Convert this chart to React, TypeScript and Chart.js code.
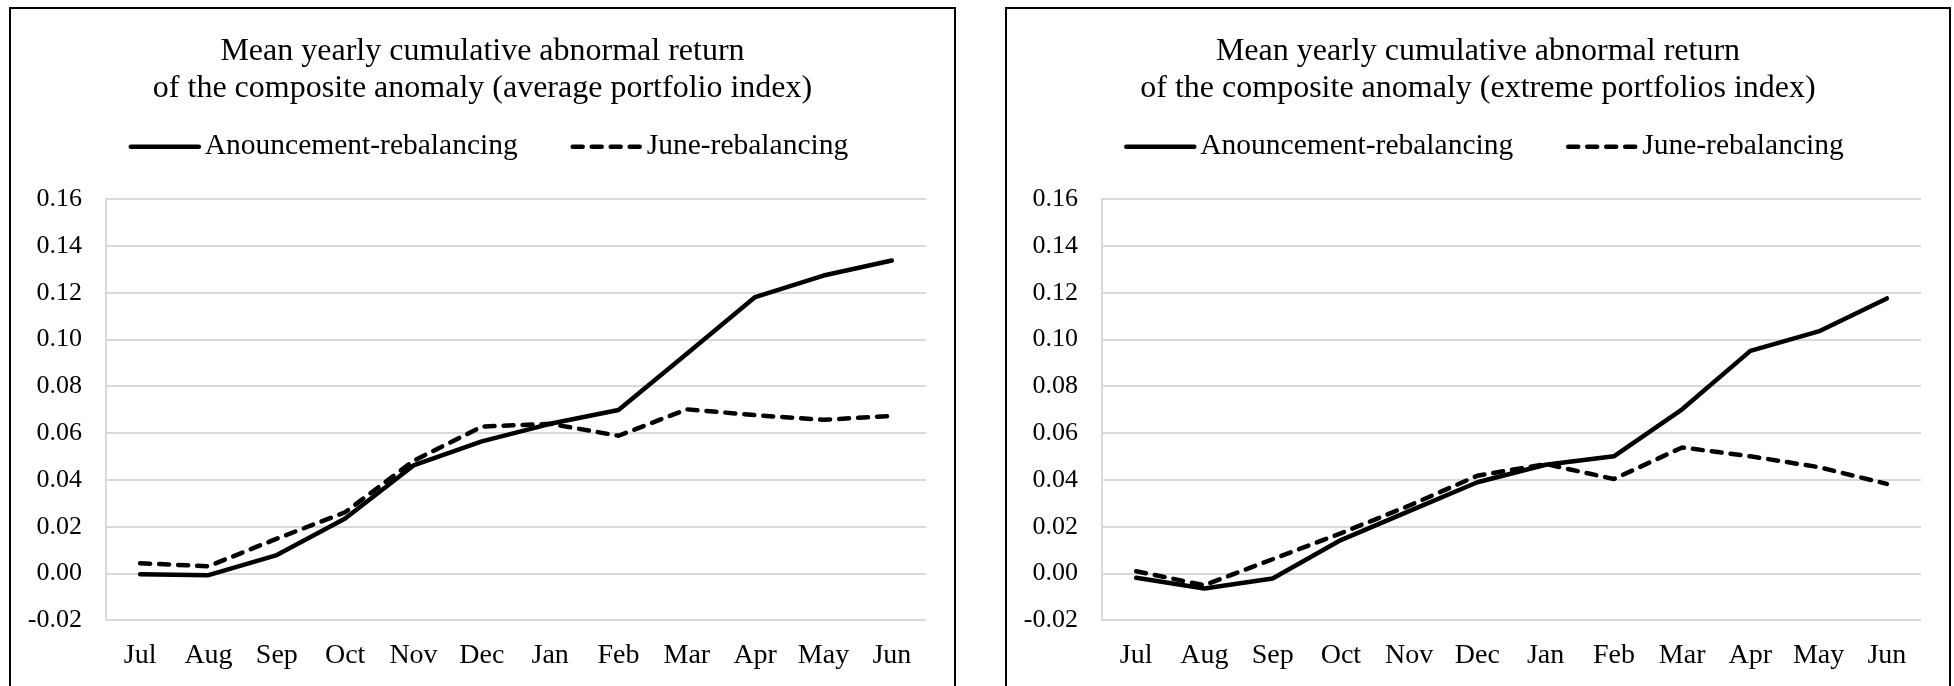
import React, { useEffect, useRef } from 'react';
import { Chart, registerables } from 'chart.js';

Chart.register(...registerables);

// ---------- data ----------
const months = ['Jul', 'Aug', 'Sep', 'Oct', 'Nov', 'Dec', 'Jan', 'Feb', 'Mar', 'Apr', 'May', 'Jun'];
const seriesNames = ['Anouncement-rebalancing', 'June-rebalancing'];

const avgTitle = ['Mean yearly cumulative abnormal return', 'of the composite anomaly (average portfolio index)'];
const extTitle = ['Mean yearly cumulative abnormal return', 'of the composite anomaly (extreme portfolios index)'];

const avgAnnouncement = [-0.0003, -0.0007, 0.0079, 0.0235, 0.0462, 0.0565, 0.064, 0.0699, 0.094, 0.1182, 0.1274, 0.1338];
const avgJune = [0.0044, 0.0031, 0.0149, 0.0262, 0.0482, 0.0628, 0.064, 0.0589, 0.0702, 0.0677, 0.0657, 0.0674];

const extAnnouncement = [-0.0018, -0.0064, -0.0021, 0.0143, 0.0267, 0.039, 0.0465, 0.0501, 0.0702, 0.0952, 0.1035, 0.1176];
const extJune = [0.001, -0.005, 0.0061, 0.0172, 0.029, 0.0418, 0.0468, 0.0404, 0.0539, 0.0501, 0.0455, 0.0383];

const yMin = -0.02;
const yMax = 0.16;
const yStep = 0.02;

// ---------- styling ----------
const FONT = "'Liberation Serif', 'Times New Roman', serif";
const GRID = '#d9d9d9';

const lineLegend = {
  id: 'lineLegend',
  afterDraw(chart: any, _args: any, opts: any) {
    const ctx = chart.ctx as CanvasRenderingContext2D;
    const ds = chart.data.datasets;
    ctx.save();
    ctx.font = `${opts.size}px ${FONT}`;
    const widths = ds.map((d: any) => ctx.measureText(d.label).width);
    const total =
      widths.reduce((a: number, w: number) => a + opts.lineLen + opts.gap + w, 0) +
      opts.itemGap * (ds.length - 1);
    let x = chart.width / 2 + opts.shift - total / 2;
    const y = opts.y;
    ds.forEach((d: any, i: number) => {
      ctx.beginPath();
      ctx.setLineDash(d.borderDash || []);
      ctx.lineWidth = d.borderWidth;
      ctx.lineCap = 'round';
      ctx.strokeStyle = d.borderColor;
      ctx.moveTo(x + 2, y);
      ctx.lineTo(x + opts.lineLen - 2, y);
      ctx.stroke();
      ctx.setLineDash([]);
      x += opts.lineLen + opts.gap;
      ctx.fillStyle = '#000';
      ctx.textBaseline = 'middle';
      ctx.textAlign = 'left';
      ctx.fillText(d.label, x, y);
      x += widths[i] + opts.itemGap;
    });
    ctx.restore();
  },
};

function makeConfig(title: string[], announcement: number[], june: number[]): any {
  return {
    type: 'line',
    data: {
      labels: months,
      datasets: [
        {
          label: seriesNames[0],
          data: announcement,
          borderColor: '#000',
          backgroundColor: '#000',
          borderWidth: 4.5,
          pointRadius: 0,
          tension: 0,
          borderCapStyle: 'round',
          borderJoinStyle: 'round',
        },
        {
          label: seriesNames[1],
          data: june,
          borderColor: '#000',
          backgroundColor: '#000',
          borderWidth: 4.5,
          borderDash: [10, 9],
          pointRadius: 0,
          tension: 0,
          borderCapStyle: 'round',
          borderJoinStyle: 'round',
        },
      ],
    },
    options: {
      animation: false,
      responsive: false,
      devicePixelRatio: 1,
      layout: { padding: 0 },
      plugins: {
        legend: { display: false },
        tooltip: { enabled: false },
        title: {
          display: true,
          text: title,
          color: '#000',
          font: { family: FONT, size: 32, weight: 'normal', lineHeight: 1.156 },
          padding: { top: 24.2, bottom: 92.1 },
        },
        lineLegend: { size: 29.5, lineLen: 72, gap: 4, itemGap: 53, y: 137.7, shift: 6 },
      },
      scales: {
        x: {
          type: 'category',
          offset: true,
          grid: { display: false, drawTicks: false },
          border: { display: false },
          ticks: {
            color: '#000',
            font: { family: FONT, size: 28 },
            padding: 18.4,
            maxRotation: 0,
            autoSkip: false,
          },
          afterFit: (s: any) => {
            s.height = 65.7;
          },
        },
        y: {
          min: yMin,
          max: yMax,
          grid: { color: GRID, lineWidth: 2, drawTicks: false },
          border: { display: true, color: GRID, width: 2 },
          ticks: {
            stepSize: yStep,
            color: '#000',
            font: { family: FONT, size: 26 },
            padding: 24,
            callback: (v: any) => Number(v).toFixed(2),
          },
          afterFit: (s: any) => {
            s.width = 95;
          },
        },
        yRightSpace: {
          position: 'right',
          min: yMin,
          max: yMax,
          grid: { display: false, drawTicks: false },
          border: { display: false },
          ticks: { display: false },
          afterFit: (s: any) => {
            s.width = 28;
          },
        },
      },
    },
    plugins: [lineLegend],
  };
}

function Panel(props: { left: number; width: number; title: string[]; a: number[]; j: number[] }) {
  const ref = useRef<HTMLCanvasElement | null>(null);
  useEffect(() => {
    if (!ref.current) return;
    const chart = new Chart(ref.current, makeConfig(props.title, props.a, props.j));
    return () => chart.destroy();
  }, []);
  const inner = props.width - 4;
  return (
    <div
      style={{
        position: 'absolute',
        left: props.left,
        top: 7,
        width: props.width,
        height: 700,
        border: '2px solid #000',
        boxSizing: 'border-box',
        background: '#fff',
      }}
    >
      <canvas ref={ref} width={inner} height={677} style={{ display: 'block', width: inner, height: 677 }} />
    </div>
  );
}

export default function App() {
  return (
    <div
      style={{
        position: 'absolute',
        left: 0,
        top: 0,
        width: 1954,
        height: 686,
        overflow: 'hidden',
        background: '#fff',
      }}
    >
      <Panel left={9} width={947} title={avgTitle} a={avgAnnouncement} j={avgJune} />
      <Panel left={1005} width={946} title={extTitle} a={extAnnouncement} j={extJune} />
    </div>
  );
}
